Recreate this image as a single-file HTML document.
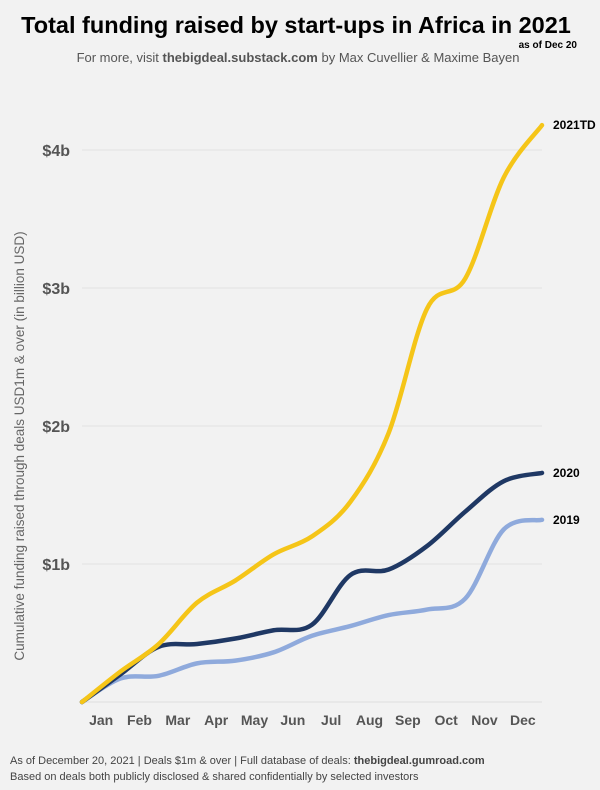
<!DOCTYPE html>
<html><head><meta charset="utf-8"><style>
body{margin:0;background:#f2f2f2;width:600px;height:790px;overflow:hidden;font-family:"Liberation Sans",sans-serif}
svg{display:block}
</style></head><body>
<svg width="600" height="790" id="c">
<rect width="600" height="790" fill="#f2f2f2"/>
<text x="296" y="33" text-anchor="middle" font-size="23.5" font-weight="bold" fill="#000">Total funding raised by start-ups in Africa in 2021</text>
<text x="577" y="48" text-anchor="end" font-size="10" font-weight="bold" fill="#000">as of Dec 20</text>
<text x="298" y="62" text-anchor="middle" font-size="13" fill="#555">For more, visit <tspan font-weight="bold">thebigdeal.substack.com</tspan> by Max Cuvellier &amp; Maxime Bayen</text>
<text transform="translate(24,446) rotate(-90)" text-anchor="middle" font-size="13.5" fill="#666">Cumulative funding raised  through deals USD1m &amp; over (in billion USD)</text>
<g id="grid"></g><g id="lines"></g>
<text x="10" y="764" font-size="11" fill="#444">As of December 20, 2021 | Deals $1m &amp; over | Full database of deals: <tspan font-weight="bold">thebigdeal.gumroad.com</tspan></text>
<text x="10" y="780" font-size="11" fill="#444">Based on deals both publicly disclosed &amp; shared confidentially by selected investors</text>
</svg>
<script>
const months=["Jan","Feb","Mar","Apr","May","Jun","Jul","Aug","Sep","Oct","Nov","Dec"];
const yTicks=[1,2,3,4];
const yTickLabels=["$1b","$2b","$3b","$4b"];
const s2021=[0,0.22,0.42,0.72,0.88,1.07,1.2,1.45,1.95,2.85,3.07,3.8,4.18];
const s2020=[0,0.2,0.4,0.42,0.46,0.52,0.56,0.92,0.96,1.13,1.38,1.6,1.66];
const s2019=[0,0.17,0.19,0.28,0.3,0.36,0.48,0.55,0.63,0.67,0.75,1.25,1.32];
const seriesNames=["2021TD","2020","2019"];
const NS="http://www.w3.org/2000/svg";
const x0=82,x1=542,y0=702,pxPerB=138;
const X=i=>x0+i*(x1-x0)/12, Y=v=>y0-v*pxPerB;
const grid=document.getElementById('grid'),lines=document.getElementById('lines');
function mk(t,a,p){const e=document.createElementNS(NS,t);for(const k in a)e.setAttribute(k,a[k]);p.appendChild(e);return e;}
yTicks.forEach((v,i)=>{
 const l=mk('line',{x1:x0,x2:x1,y1:Y(v),y2:Y(v),stroke:'#e2e2e2','stroke-width':1},grid);
 
 
 const t=mk('text',{x:70,y:Y(v)+6,'text-anchor':'end','font-size':16,'font-weight':'bold',fill:'#555'},grid);
 t.textContent=yTickLabels[i];
 
 
});
const b=mk('line',{x1:x0,x2:x1,y1:y0,y2:y0,stroke:'#ddd','stroke-width':1},grid);


months.forEach((m,i)=>{
 const t=mk('text',{x:(X(i)+X(i+1))/2,y:725,'text-anchor':'middle','font-size':14,'font-weight':'bold',fill:'#555'},grid);
 t.textContent=m;
 
 
});
function path(vals){
 const p=vals.map((v,i)=>[X(i),Y(v)]);let d=`M${p[0][0]},${p[0][1]}`;
 for(let i=0;i<p.length-1;i++){const a=p[i-1]||p[i],b0=p[i],c=p[i+1],e=p[i+2]||c;
  d+=` C${b0[0]+(c[0]-a[0])/6},${b0[1]+(c[1]-a[1])/6} ${c[0]-(e[0]-b0[0])/6},${c[1]-(e[1]-b0[1])/6} ${c[0]},${c[1]}`;}
 return d;}
[[s2019,'#8faadc','2019'],[s2020,'#1f3864','2020'],[s2021,'#f5c518','2021TD']].forEach(([s,col,n])=>{
 const pa=mk('path',{d:path(s),fill:'none',stroke:col,'stroke-width':4.5,'stroke-linecap':'round'},lines);
 
 
 const t=mk('text',{x:553,y:Y(s[12])+4,'font-size':12,'font-weight':'bold',fill:'#000'},lines);
 t.textContent=n;
 
 
});
</script>
</body></html>
